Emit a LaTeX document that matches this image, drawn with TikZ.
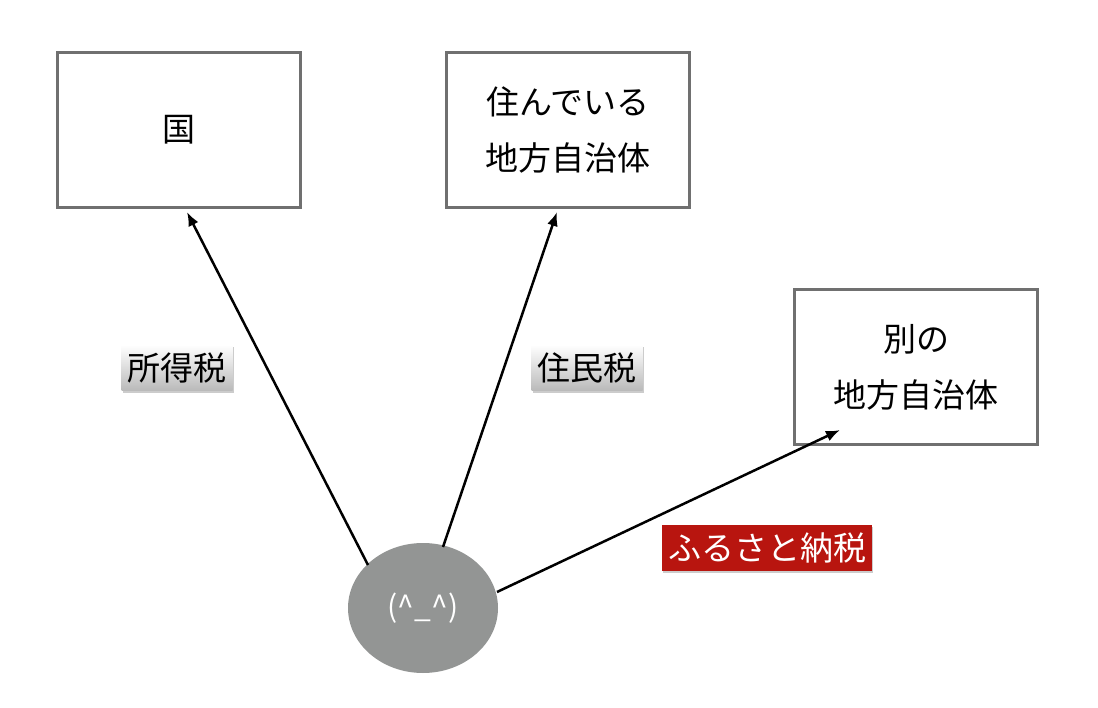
\documentclass[tikz,border=0pt]{standalone}
\usepackage{fontspec}
\setmainfont{Noto Sans CJK JP}
\usetikzlibrary{shapes.geometric,shadows,arrows.meta}
\definecolor{boxline}{HTML}{707070}
\definecolor{face}{HTML}{939594}
\definecolor{furured}{HTML}{B8150F}
\begin{document}
\begin{tikzpicture}[x=1pt,y=-1pt,
  box/.style={draw=boxline,line width=2.5pt,fill=white,minimum width=243pt,minimum height=155pt,align=center,font=\fontsize{33}{56}\selectfont},
  tag/.style={inner xsep=6pt,minimum height=46pt,font=\fontsize{33}{36}\selectfont,top color=white,bottom color=gray!55,drop shadow={shadow xshift=1pt,shadow yshift=-2pt,opacity=0.4}},
  arr/.style={line width=2.5pt,-{Latex[length=14pt,width=11pt]}}]
\useasboundingbox (0,0) rectangle (1098,708);
\node[box] (kuni) at (179,130) {国};
\node[box] (jumin) at (568,130) {住んでいる\\地方自治体};
\node[box] (betsu) at (916,367) {別の\\地方自治体};
\node[ellipse,fill=face,minimum width=150pt,minimum height=130pt,text=white,font=\fontsize{30}{34}\selectfont] (me) at (423,608) {(\^{}\_\^{})};
\coordinate (a1) at (187,212);
\coordinate (a2) at (557,212);
\coordinate (a3) at (840,430);
\coordinate (s1) at (368,565);
\coordinate (s2) at (443,547);
\coordinate (s3) at (497,592);
\draw[arr] (s1) -- (a1);
\draw[arr] (s2) -- (a2);
\draw[arr] (s3) -- (a3);
\node[tag] (t1) at (177,368) {所得税};
\node[tag] (t2) at (587,368) {住民税};
\node[fill=furured,text=white,inner xsep=6pt,minimum height=46pt,font=\fontsize{33}{36}\selectfont,drop shadow={shadow xshift=1pt,shadow yshift=-2pt,opacity=0.4}] (t3) at (767,548) {ふるさと納税};
\end{tikzpicture}
\end{document}
